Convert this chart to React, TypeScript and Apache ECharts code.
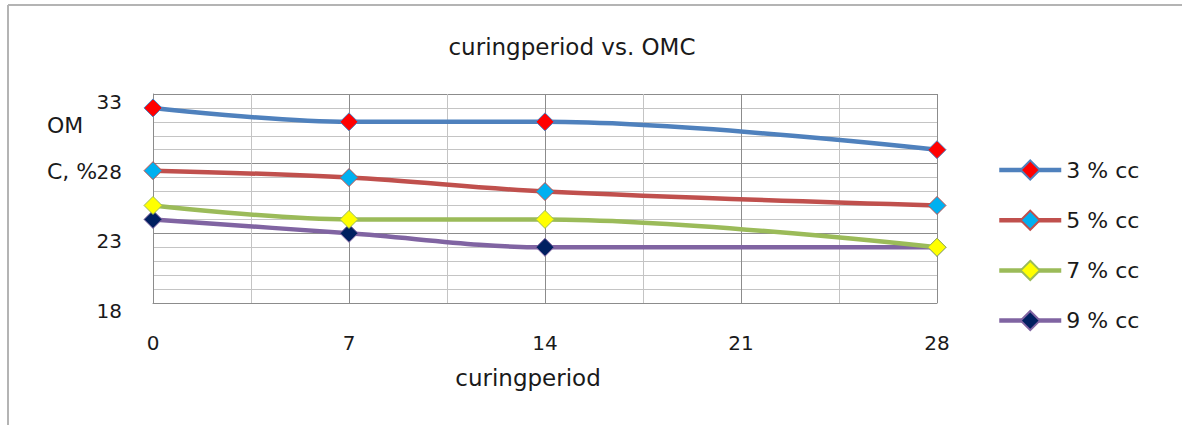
import React, { useEffect, useRef } from "react";
import * as echarts from "echarts";

// Curing period (days) on the x axis
const curingDays = [0, 7, 14, 28];

// Optimum moisture content (%) for each cement content
const seriesNames = ["3 % cc", "5 % cc", "7 % cc", "9 % cc"];
const omc3 = [32, 31, 31, 29];
const omc5 = [27.5, 27, 26, 25];
const omc7 = [25, 24, 24, 22];
const omc9 = [24, 23, 22, 22];

const lineColors = ["#4F81BD", "#C0504D", "#9BBB59", "#8064A2"];
const markerColors = ["#FF0000", "#00B0F0", "#FFFF00", "#002060"];

const FONT = "DejaVu Sans";

export default function App() {
  const ref = useRef<HTMLDivElement>(null);

  useEffect(() => {
    if (!ref.current) return;
    const chart = echarts.init(ref.current, undefined, { renderer: "svg" });
    const values = [omc3, omc5, omc7, omc9];

    const series = values.map((vals, i) => ({
      name: seriesNames[i],
      type: "line",
      smooth: 0.35,
      data: vals.map((v, j) => [curingDays[j], v]),
      symbol: "diamond",
      symbolSize: 18,
      lineStyle: { color: lineColors[i], width: 4.5 },
      itemStyle: { color: markerColors[i], borderColor: lineColors[i], borderWidth: 1 },
      z: 10 - i,
    }));

    chart.setOption({
      animation: false,
      backgroundColor: "#ffffff",
      title: {
        text: "curingperiod vs. OMC",
        left: 567,
        top: 30,
        textAlign: "center",
        textStyle: { fontFamily: FONT, fontSize: 23, fontWeight: "normal", color: "#1a1a1a" },
      },
      grid: { left: 153, right: 245, top: 94, bottom: 122 },
      legend: {
        orient: "vertical",
        left: 997,
        top: 159,
        padding: 0,
        itemWidth: 62,
        itemHeight: 24,
        itemGap: 28.2,
        lineStyle: { width: 4.5 },
        textStyle: { fontFamily: FONT, fontSize: 22, color: "#1a1a1a" },
        data: seriesNames,
      },
      xAxis: {
        type: "value",
        min: 0,
        max: 28,
        interval: 7,
        axisLine: { show: true, lineStyle: { color: "#8c8c8c", width: 1 } },
        axisTick: { show: false },
        axisLabel: { margin: 30, fontFamily: FONT, fontSize: 20, color: "#1a1a1a" },
        splitLine: { show: true, lineStyle: { color: "#8c8c8c", width: 1 } },
        minorTick: { show: false, splitNumber: 2 },
        minorSplitLine: { show: true, lineStyle: { color: "#c4c4c4", width: 1 } },
      },
      yAxis: {
        type: "value",
        min: 18,
        max: 33,
        interval: 5,
        axisLine: { show: true, lineStyle: { color: "#8c8c8c", width: 1 } },
        axisTick: { show: false },
        axisLabel: {
          margin: 31,
          fontFamily: FONT,
          fontSize: 20,
          color: "#1a1a1a",
          verticalAlign: "top",
          lineHeight: 16,
        },
        splitLine: { show: true, lineStyle: { color: "#8c8c8c", width: 1 } },
        minorTick: { show: false, splitNumber: 5 },
        minorSplitLine: { show: true, lineStyle: { color: "#c4c4c4", width: 1 } },
      },
      graphic: [
        // chart frame
        { type: "line", shape: { x1: 8, y1: 5, x2: 1182, y2: 5 }, style: { stroke: "#b4b4b4", lineWidth: 2 } },
        { type: "line", shape: { x1: 8, y1: 5, x2: 8, y2: 425 }, style: { stroke: "#b4b4b4", lineWidth: 2 } },
        // y axis title, wrapped over two lines
        {
          type: "text",
          x: 47,
          y: 125,
          style: { text: "OM", font: `22px "${FONT}"`, fill: "#1a1a1a", textVerticalAlign: "middle" },
        },
        {
          type: "text",
          x: 47,
          y: 171,
          style: { text: "C, %", font: `22px "${FONT}"`, fill: "#1a1a1a", textVerticalAlign: "middle" },
        },
        // x axis title
        {
          type: "text",
          x: 528,
          y: 378,
          style: {
            text: "curingperiod",
            font: `23px "${FONT}"`,
            fill: "#1a1a1a",
            textAlign: "center",
            textVerticalAlign: "middle",
          },
        },
      ],
      series,
    });

    return () => chart.dispose();
  }, []);

  return (
    <div style={{ position: "fixed", left: 0, top: 0, width: 1182, height: 425, overflow: "hidden", background: "#fff" }}>
      <div ref={ref} style={{ width: 1182, height: 425 }} />
    </div>
  );
}
